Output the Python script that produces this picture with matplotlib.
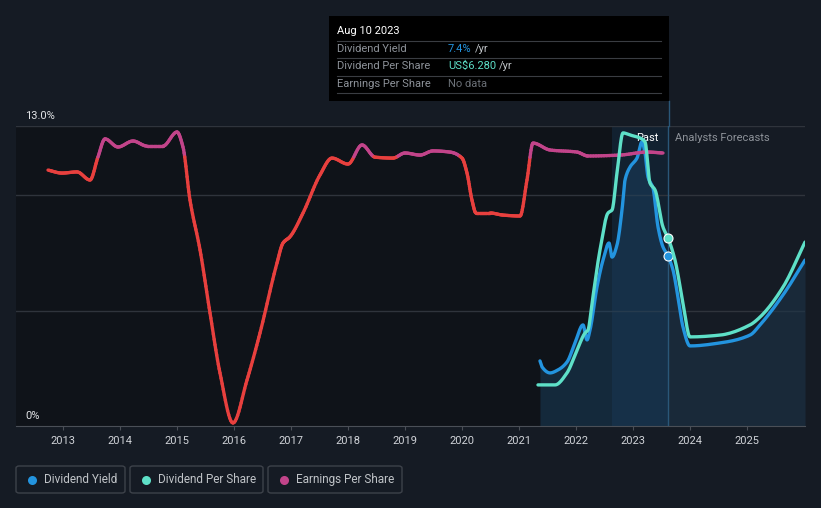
import matplotlib
matplotlib.use("Agg")
import matplotlib.pyplot as plt
import numpy as np
from matplotlib.collections import LineCollection
from matplotlib.patches import FancyBboxPatch, Rectangle

plt.rcParams['font.family'] = ['Roboto', 'DejaVu Sans']

# ---- data ----
yield_x = [2021.368, 2021.404, 2021.544, 2021.684, 2021.842, 2021.982, 2022.123, 2022.193,
           2022.246, 2022.368, 2022.474, 2022.579, 2022.632, 2022.719, 2022.807, 2022.860,
           2022.947, 2023.070, 2023.158, 2023.211, 2023.263, 2023.351, 2023.439, 2023.526,
           2023.614, 2023.702, 2023.789, 2023.877, 2024.0, 2024.526, 2025.053, 2025.228,
           2025.632, 2026.018]
yield_y = [2.82, 2.56, 2.30, 2.43, 2.77, 3.60, 4.38, 3.73, 4.16, 6.02, 7.19, 7.93, 7.32, 7.84,
           9.36, 10.66, 11.22, 11.61, 12.31, 11.83, 10.79, 10.31, 8.62, 7.76, 7.37, 6.76, 5.59,
           4.29, 3.47, 3.60, 3.94, 4.38, 5.68, 7.19]

dps_x = [2021.333, 2021.632, 2021.842, 2022.018, 2022.158, 2022.211, 2022.281, 2022.421,
         2022.561, 2022.632, 2022.719, 2022.825, 2022.947, 2023.123, 2023.211, 2023.298,
         2023.386, 2023.526, 2023.614, 2023.737, 2023.877, 2024.0, 2024.526, 2025.053,
         2025.228, 2025.632, 2026.018]
dps_y = [1.37, 1.37, 1.77, 2.53, 3.10, 3.20, 4.10, 5.87, 7.10, 7.20, 8.43, 9.77, 9.70, 9.60,
         9.47, 8.10, 7.87, 6.63, 6.27, 5.53, 4.10, 2.97, 3.03, 3.37, 3.63, 4.63, 6.13]

eps_x = [2012.737, 2012.982, 2013.246, 2013.474, 2013.614, 2013.737, 2013.965, 2014.228,
         2014.474, 2014.754, 2015.0, 2015.105, 2015.228, 2015.404, 2015.579, 2015.754,
         2015.982, 2016.228, 2016.456, 2016.754, 2016.860, 2016.982, 2017.211, 2017.509,
         2017.719, 2018.0, 2018.246, 2018.474, 2018.789, 2019.0, 2019.263, 2019.491,
         2019.789, 2020.0, 2020.088, 2020.175, 2020.246, 2020.491, 2020.719, 2021.018,
         2021.140, 2021.246, 2021.544, 2022.018, 2022.211, 2022.772, 2023.246, 2023.526]
eps_y = [11.09, 10.96, 11.01, 10.66, 11.66, 12.44, 12.09, 12.35, 12.13, 12.13, 12.74, 12.09,
         9.79, 7.63, 4.90, 2.30, 0.13, 1.99, 4.03, 7.06, 7.93, 8.20, 9.23, 10.88, 11.61, 11.35,
         12.18, 11.65, 11.61, 11.83, 11.74, 11.92, 11.87, 11.61, 10.96, 9.79, 9.23, 9.23, 9.14,
         9.10, 10.66, 12.26, 11.96, 11.87, 11.70, 11.74, 11.87, 11.83]

years = list(range(2013, 2026))
now_x = 2023.61
past_start = 2022.63

# ---- colours ----
BG = '#151b24'
DARK = '#0f1319'
C_YIELD = '#2394df'
C_DPS = '#5ee0c8'
C_EPS_HI = '#c2448a'
C_EPS_LO = '#e8403e'


def smooth(x, y, n=12):
    """Monotone cubic (PCHIP) curve through the points, for drawing only."""
    x = np.asarray(x, float); y = np.asarray(y, float)
    h = np.diff(x); d = np.diff(y) / h
    m = np.zeros_like(y)
    for i in range(1, len(y) - 1):
        if d[i - 1] * d[i] > 0:
            w1 = 2 * h[i] + h[i - 1]; w2 = h[i] + 2 * h[i - 1]
            m[i] = (w1 + w2) / (w1 / d[i - 1] + w2 / d[i])
    m[0] = d[0]; m[-1] = d[-1]
    xs, ys = [], []
    for i in range(len(x) - 1):
        t = np.linspace(0, 1, n, endpoint=False)
        h00 = 2 * t**3 - 3 * t**2 + 1; h10 = t**3 - 2 * t**2 + t
        h01 = -2 * t**3 + 3 * t**2; h11 = t**3 - t**2
        xs.append(x[i] + t * h[i])
        ys.append(h00 * y[i] + h10 * h[i] * m[i] + h01 * y[i + 1] + h11 * h[i] * m[i + 1])
    xs.append([x[-1]]); ys.append([y[-1]])
    return np.concatenate(xs), np.concatenate(ys)


W, H = 821, 508
fig = plt.figure(figsize=(W / 100, H / 100), dpi=100, facecolor=BG)

x0, x1 = 16, 805
ytop, ybot = 126, 426
ax = fig.add_axes([x0 / W, 1 - ybot / H, (x1 - x0) / W, (ybot - ytop) / H])
ax.set_facecolor(BG)
xmin = 2013 - (63 - x0) / 57
xmax = 2013 + (x1 - 63) / 57
ax.set_xlim(xmin, xmax)
ax.set_ylim(0, 13)

# darker past background
ax.axvspan(xmin, now_x, color=DARK, zorder=0, lw=0)
# past highlight
ax.axvspan(past_start, now_x, color='#1a3d5c', alpha=0.35, zorder=0.5, lw=0)

# grid
for g in [5, 10, 13]:
    ax.axhline(g, color='#2f343c', lw=1, zorder=1)

# area under dividend yield
sx, sy = smooth(yield_x, yield_y)
ax.fill_between(sx, 0, sy, where=sx <= now_x + 0.005, color='#1c4466', alpha=0.45, lw=0, zorder=1)
ax.fill_between(sx, 0, sy, where=sx >= now_x - 0.005, color='#1d3448', alpha=0.6, lw=0, zorder=1)

# EPS line coloured by level (hidden twin axis)
ax3 = ax.twinx()
ax3.set_ylim(0, 13)
ax3.axis('off')
ex, ey = smooth(eps_x, eps_y)
pts = np.column_stack([ex, ey])
segs = np.stack([pts[:-1], pts[1:]], axis=1)
mids = (ey[:-1] + ey[1:]) / 2
cols = [C_EPS_HI if m >= 11.68 else C_EPS_LO for m in mids]
lc = LineCollection(segs, colors=cols, linewidths=2.4, capstyle='round', joinstyle='round', zorder=3)
ax3.add_collection(lc)

# yield line
ax.plot(sx, sy, color=C_YIELD, lw=2.4, zorder=4, solid_capstyle='round', solid_joinstyle='round')

# DPS on hidden axis 0-10
ax2 = ax.twinx()
ax2.set_ylim(0, 10)
ax2.axis('off')
dx, dy = smooth(dps_x, dps_y)
ax2.plot(dx, dy, color=C_DPS, lw=2.4, zorder=4, solid_capstyle='round', solid_joinstyle='round')

# markers at now
ax.scatter([now_x], [7.37], s=42, color=C_YIELD, edgecolor='white', lw=0.8, zorder=6)
ax2.scatter([now_x], [6.28], s=42, color=C_DPS, edgecolor='white', lw=0.8, zorder=6)

# now line
ax.axvline(now_x, color='#2a5778', lw=1, zorder=2)

# spines / ticks
for s in ['top', 'right', 'left']:
    ax.spines[s].set_visible(False)
ax.spines['bottom'].set_color('#4a4f57')
ax.set_yticks([])
ax.set_xticks(years)
ax.set_xticklabels([str(y) for y in years], color='#d0d3d8', fontsize=8)
ax.tick_params(axis='x', length=3, color='#4a4f57', pad=4)

# y labels
ax.text(2013 - (63 - 25) / 57, 13.2, '13.0%', color='#e0e2e5', fontsize=8, va='bottom', ha='left')
ax.text(2013 - (63 - 25) / 57, 0.2, '0%', color='#e0e2e5', fontsize=8, va='bottom', ha='left')

ax.text(now_x - 0.17, 12.5, 'Past', color='white', fontsize=8, ha='right', va='center', zorder=7)
ax.text(now_x + 0.12, 12.5, 'Analysts Forecasts', color='#8d9299', fontsize=8, ha='left', va='center', zorder=7)

# now line extending up to tooltip
fig.add_artist(plt.Line2D([669 / W, 669 / W], [1 - 126 / H, 1 - 101 / H], color='#2a5778', lw=1))

# tooltip
tt = Rectangle((329 / W, 1 - 101 / H), (669 - 329) / W, (101 - 16) / H, transform=fig.transFigure,
               facecolor='black', edgecolor='none', zorder=10)
fig.add_artist(tt)
fig.text(337 / W, 1 - 31 / H, 'Aug 10 2023', color='white', fontsize=8, va='center', zorder=11)
rows = [('Dividend Yield', '7.4%', C_YIELD, 49), ('Dividend Per Share', 'US$6.280', C_DPS, 66),
        ('Earnings Per Share', None, None, 84)]
for yline in [41, 58, 76, 93]:
    fig.add_artist(plt.Line2D([337 / W, 661 / W], [1 - yline / H] * 2, color='#3a3d42', lw=0.8, zorder=11))
for lab, val, c, yy_ in rows:
    fig.text(337 / W, 1 - yy_ / H, lab, color='#8d9299', fontsize=8, va='center', zorder=11)
    if val is None:
        fig.text(448 / W, 1 - yy_ / H, 'No data', color='#6b7077', fontsize=8, va='center', zorder=11)
    else:
        t = fig.text(448 / W, 1 - yy_ / H, val, color=c, fontsize=8, va='center', zorder=11)
        fig.canvas.draw()
        bb = t.get_window_extent()
        fig.text((bb.x1 + 3) / W, 1 - yy_ / H, '/yr', color='#c0c4c8', fontsize=8, va='center', zorder=11)

# legend boxes
legend = [('Dividend Yield', C_YIELD, 16, 125), ('Dividend Per Share', C_DPS, 130, 263),
          ('Earnings Per Share', C_EPS_HI, 268, 402)]
for lab, c, lx0, lx1 in legend:
    box = FancyBboxPatch((lx0 / W, 1 - 493 / H), (lx1 - lx0) / W, 27 / H,
                         boxstyle='round,pad=0,rounding_size=0.004', transform=fig.transFigure,
                         facecolor='none', edgecolor='#3d424a', lw=1)
    fig.add_artist(box)
    fig.add_artist(plt.Line2D([(lx0 + 16) / W], [1 - 479.5 / H], marker='o', markersize=6.5,
                              color=c, markeredgewidth=0, transform=fig.transFigure))
    fig.text((lx0 + 28) / W, 1 - 479.5 / H, lab, color='#c0c4c8', fontsize=8.5, va='center')

fig.savefig('out.png', dpi=100, facecolor=BG)
